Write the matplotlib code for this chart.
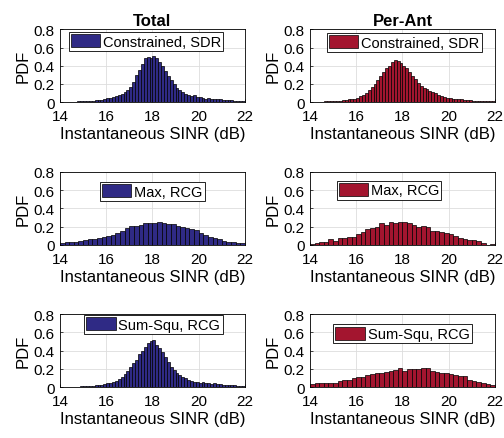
import numpy as np
import matplotlib.pyplot as plt

plt.rcParams['font.family'] = ['Liberation Sans', 'DejaVu Sans']

# bin centres (dB): fine 0.125 dB bins and coarse 0.2 dB bins over 14..22
fine_bins = np.arange(14, 22, 0.125) + 0.0625
coarse_bins = np.arange(14, 22, 0.2) + 0.1

total_sdr = [0.005, 0.004, 0.006, 0.005, 0.007, 0.006, 0.008, 0.010,
             0.010, 0.012, 0.015, 0.018, 0.020, 0.025, 0.028, 0.033,
             0.045, 0.050, 0.060, 0.065, 0.075, 0.090, 0.110, 0.130,
             0.170, 0.220, 0.300, 0.350, 0.420, 0.480, 0.500, 0.490,
             0.510, 0.490, 0.440, 0.400, 0.340, 0.290, 0.240, 0.200,
             0.160, 0.130, 0.110, 0.090, 0.080, 0.070, 0.075, 0.060,
             0.055, 0.050, 0.040, 0.045, 0.035, 0.030, 0.040, 0.030,
             0.025, 0.020, 0.025, 0.020, 0.018, 0.015, 0.012, 0.010]

perant_sdr = [0.005, 0.004, 0.005, 0.006, 0.006, 0.008, 0.008, 0.010,
              0.012, 0.015, 0.018, 0.022, 0.025, 0.030, 0.035, 0.040,
              0.050, 0.065, 0.080, 0.100, 0.130, 0.170, 0.200, 0.240,
              0.290, 0.330, 0.370, 0.400, 0.440, 0.460, 0.450, 0.430,
              0.400, 0.370, 0.330, 0.290, 0.250, 0.210, 0.180, 0.160,
              0.140, 0.120, 0.110, 0.100, 0.080, 0.070, 0.060, 0.050,
              0.045, 0.040, 0.035, 0.035, 0.030, 0.025, 0.025, 0.020,
              0.018, 0.015, 0.015, 0.012, 0.010, 0.012, 0.008, 0.008]

total_max = [0.02, 0.03, 0.03, 0.03, 0.04, 0.05, 0.06, 0.06, 0.07, 0.09,
             0.10, 0.11, 0.13, 0.15, 0.18, 0.21, 0.21, 0.22, 0.24, 0.24,
             0.24, 0.25, 0.24, 0.23, 0.23, 0.21, 0.20, 0.18, 0.17, 0.16,
             0.13, 0.11, 0.09, 0.07, 0.06, 0.04, 0.03, 0.03, 0.02, 0.02]

perant_max = [0.01, 0.02, 0.03, 0.03, 0.06, 0.04, 0.07, 0.08, 0.09, 0.09,
              0.12, 0.14, 0.17, 0.19, 0.20, 0.24, 0.22, 0.25, 0.24, 0.25,
              0.25, 0.24, 0.22, 0.20, 0.21, 0.20, 0.15, 0.15, 0.14, 0.13,
              0.12, 0.10, 0.08, 0.06, 0.05, 0.05, 0.04, 0.02, 0.00, 0.01]

total_sumsq = [0.003, 0.004, 0.003, 0.005, 0.004, 0.006, 0.006, 0.008,
               0.008, 0.010, 0.012, 0.015, 0.020, 0.022, 0.028, 0.030,
               0.040, 0.050, 0.060, 0.070, 0.090, 0.110, 0.140, 0.180,
               0.220, 0.260, 0.300, 0.360, 0.400, 0.440, 0.480, 0.510,
               0.520, 0.460, 0.430, 0.380, 0.330, 0.280, 0.220, 0.190,
               0.160, 0.130, 0.110, 0.100, 0.080, 0.070, 0.060, 0.055,
               0.050, 0.060, 0.045, 0.040, 0.035, 0.040, 0.030, 0.030,
               0.025, 0.025, 0.020, 0.020, 0.018, 0.015, 0.010, 0.010]

perant_sumsq = [0.03, 0.05, 0.05, 0.05, 0.05, 0.05, 0.07, 0.08, 0.08, 0.10,
                0.11, 0.11, 0.13, 0.14, 0.15, 0.16, 0.17, 0.18, 0.19, 0.21,
                0.18, 0.20, 0.20, 0.20, 0.21, 0.21, 0.18, 0.17, 0.15, 0.15,
                0.14, 0.13, 0.12, 0.12, 0.08, 0.07, 0.06, 0.04, 0.03, 0.02]

blue = '#2f2a85'
red = '#a3152f'

panels = [
    # (row, col, bins, width, values, colour, label, legend centre)
    (0, 0, fine_bins, 0.125, total_sdr, blue, 'Constrained, SDR', (0.465, 0.835)),
    (0, 1, fine_bins, 0.125, perant_sdr, red, 'Constrained, SDR', (0.51, 0.82)),
    (1, 0, coarse_bins, 0.2, total_max, blue, 'Max, RCG', (0.50, 0.73)),
    (1, 1, coarse_bins, 0.2, perant_max, red, 'Max, RCG', (0.427, 0.75)),
    (2, 0, fine_bins, 0.125, total_sumsq, blue, 'Sum-Squ, RCG', (0.505, 0.86)),
    (2, 1, coarse_bins, 0.2, perant_sumsq, red, 'Sum-Squ, RCG', (0.50, 0.73)),
]

fig = plt.figure(figsize=(5.04, 4.39), dpi=100)
lefts = [0.119, 0.615]
bottoms = [0.765, 0.440, 0.116]

for row, col, bins, w, vals, colour, label, loc in panels:
    ax = fig.add_axes([lefts[col], bottoms[row], 0.367, 0.166])
    ax.bar(bins, vals, width=w, color=colour, edgecolor='black',
           linewidth=0.5, label=label, zorder=2)
    ax.set_xlim(14, 22)
    ax.set_ylim(0, 0.8)
    ax.set_xticks([14, 16, 18, 20, 22])
    ax.set_yticks([0, 0.2, 0.4, 0.6, 0.8])
    ax.set_yticklabels(['0', '0.2', '0.4', '0.6', '0.8'])
    ax.grid(True, color='#dddddd', linewidth=0.6, zorder=0)
    ax.set_axisbelow(True)
    ax.tick_params(direction='in', length=2.5, width=0.5, labelsize=11)
    ax.tick_params(axis='x', pad=5)
    ax.tick_params(axis='y', pad=4)
    for s in ax.spines.values():
        s.set_linewidth(0.6)
    ax.set_xlabel('Instantaneous SINR (dB)', fontsize=12, labelpad=2)
    ax.set_ylabel('PDF', fontsize=12, labelpad=2)
    leg = ax.legend(loc='center', bbox_to_anchor=loc, fontsize=10.5,
                    fancybox=False, framealpha=1, edgecolor='black',
                    handlelength=2.0, handleheight=1.0, handletextpad=0.2,
                    borderpad=0.15, borderaxespad=0)
    leg.get_frame().set_linewidth(0.6)
    if row == 0:
        ax.set_title('Total' if col == 0 else 'Per-Ant', fontsize=12,
                     fontweight='bold', pad=3)

fig.savefig('out.png', dpi=100)
